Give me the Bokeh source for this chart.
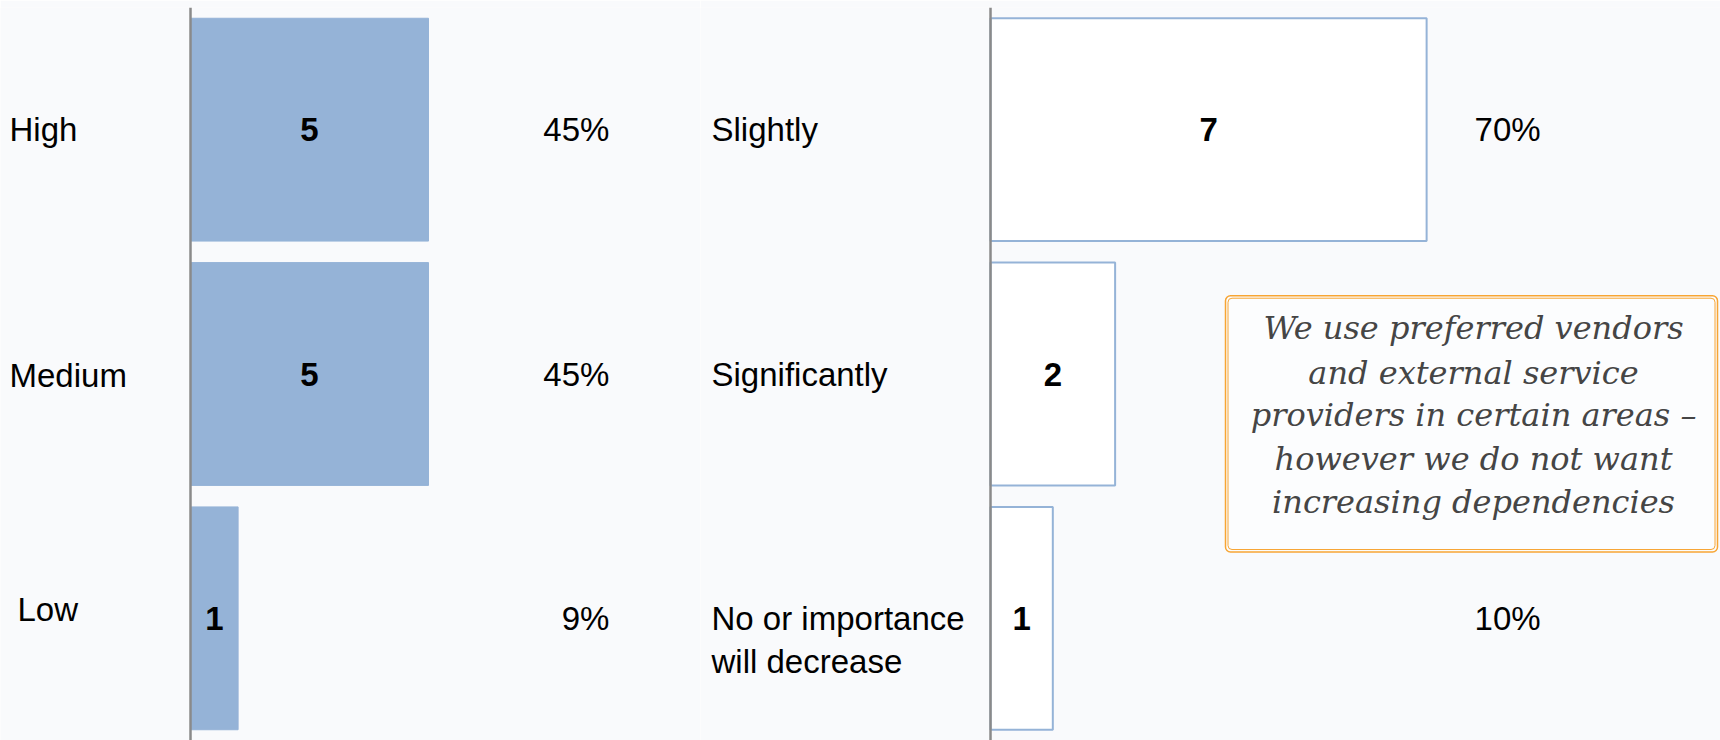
from bokeh.plotting import figure
from bokeh.layouts import row
from bokeh.models import Range1d, FactorRange, Span, BoxAnnotation, Label, ColumnDataSource
from bokeh.embed import file_html
from bokeh.resources import INLINE
from bokeh.core.properties import value

# Importance of the topic (left panel)
importance_levels = ["High", "Medium", "Low"]
importance_counts = [5, 5, 1]
importance_pct = ["45%", "45%", "9%"]

# Expected increase of importance (right panel)
increase_levels = ["Slightly", "Significantly", "No or importance\nwill decrease"]
increase_counts = [7, 2, 1]
increase_pct = ["70%", "", "10%"]

# Quote shown in the call-out box
comment_lines = [
    "We use preferred vendors",
    "and external service",
    "providers in certain areas \u2013",
    "however we do not want",
    "increasing dependencies",
]

BG = "#f9fafc"
BAR_BLUE = "#95b3d7"
AXIS_GREY = "#8a8a8a"
ORANGE = "#f7a534"
FONT = "Liberation Sans"
FONT_SIZE = "33px"
HEIGHT = 740
TOP = 7


def panel(width, x_start, x_end, levels, counts, pct, pct_x, label_dx, label_dy,
          fill_color, line_color, line_width):
    p = figure(width=width, height=HEIGHT,
               x_range=Range1d(x_start, x_end),
               y_range=FactorRange(factors=levels[::-1]),
               x_axis_location=None, y_axis_location=None,
               output_backend="svg", toolbar_location=None,
               min_border_left=0, min_border_right=0,
               min_border_top=TOP, min_border_bottom=0)
    p.grid.visible = False
    p.outline_line_color = None
    p.background_fill_color = BG
    p.border_fill_color = BG

    src = ColumnDataSource(dict(
        level=levels,
        count=counts,
        mid=[c / 2 for c in counts],
        count_txt=[str(c) for c in counts],
        pct=pct,
        pct_x=[pct_x] * len(levels),
    ))
    p.hbar(y="level", left=0, right="count", height=0.912, source=src,
           fill_color=fill_color, line_color=line_color, line_width=line_width)

    # value inside each bar
    p.text(x="mid", y="level", text="count_txt", source=src,
           text_font=value(FONT), text_font_size=FONT_SIZE, text_font_style="bold",
           text_align="center", text_baseline="middle", text_color="black")

    # share of answers
    p.text(x="pct_x", y="level", text="pct", source=src,
           text_font=value(FONT), text_font_size=FONT_SIZE,
           text_align="right", text_baseline="middle", text_color="black")

    # category names, one glyph row per text line
    lx, ly, lt, lxo, lyo = [], [], [], [], []
    for lev, dx, dy in zip(levels, label_dx, label_dy):
        for i, line in enumerate(lev.split("\n")):
            lx.append(x_start)
            ly.append(lev)
            lt.append(line)
            lxo.append(dx)
            lyo.append(dy + i * 43)
    p.text(x=lx, y=ly, text=lt, x_offset=lxo, y_offset=lyo,
           text_font=value(FONT), text_font_size=FONT_SIZE,
           text_align="left", text_baseline="middle", text_color="black")

    p.add_layout(Span(location=0, dimension="height", line_color=AXIS_GREY,
                      line_width=2.5))
    return p


left = panel(700, -3.9916, 10.714, importance_levels, importance_counts,
             importance_pct, 8.80, [9, 9, 17], [0, 1, -9],
             BAR_BLUE, BAR_BLUE, 1)

right = panel(1020, -4.655, 11.717, increase_levels, increase_counts,
              increase_pct, 8.83, [11, 11, 11], [0, 0, 0],
              "white", BAR_BLUE, 2)

# call-out box with a double orange frame
right.add_layout(BoxAnnotation(left=3.772, right=11.669, bottom=0.7714, top=1.8204,
                               fill_color="#fcfdfe", fill_alpha=1.0,
                               line_color=ORANGE, line_width=1.5, line_alpha=1.0,
                               border_radius=5))
right.add_layout(BoxAnnotation(left=3.812, right=11.629, bottom=0.7816, top=1.8102,
                               fill_alpha=0.0,
                               line_color=ORANGE, line_width=1.0, line_alpha=1.0,
                               border_radius=4))

line_y = [1.690, 1.506, 1.331, 1.151, 0.975]
for txt, yy in zip(comment_lines, line_y):
    right.add_layout(Label(x=7.753, y=yy, text=txt, text_align="center",
                           text_baseline="alphabetic",
                           text_font="DejaVu Serif", text_font_style="italic",
                           text_font_size="32px", text_color="#454545"))

layout = row(left, right, spacing=0)

open("out.html", "w").write(file_html(layout, INLINE))
